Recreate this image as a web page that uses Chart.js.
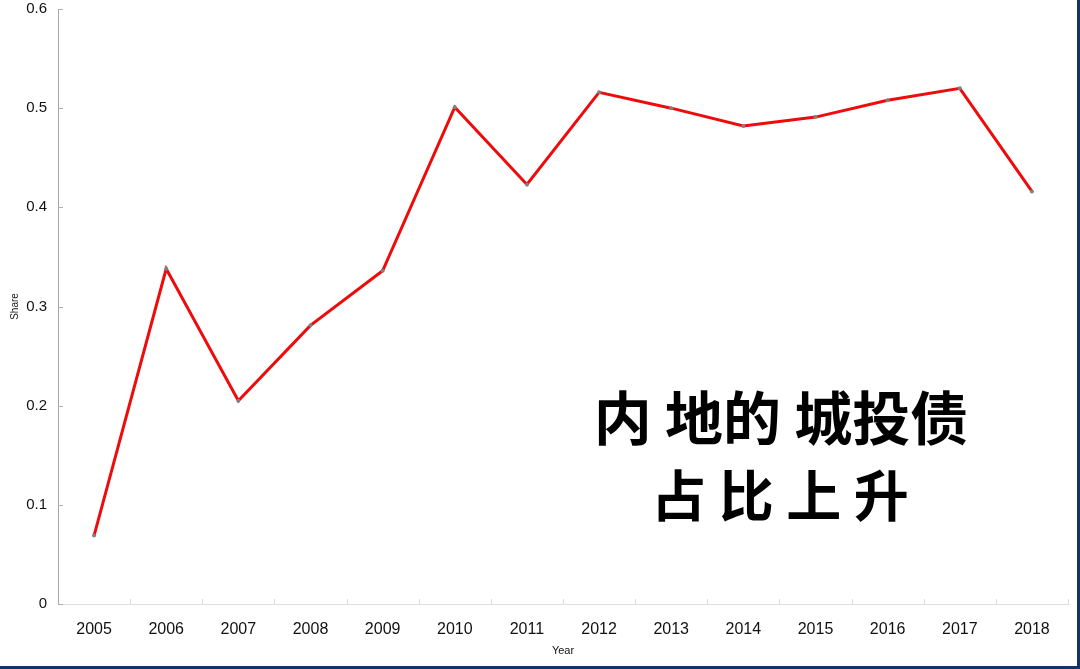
<!DOCTYPE html>
<html>
<head>
<meta charset="utf-8">
<script src="https://cdn.jsdelivr.net/npm/chart.js@4"></script>
<style>
  html, body { margin: 0; padding: 0; background: #12336a; width: 1080px; height: 669px; overflow: hidden; }
  #wrap { position: absolute; left: 0; top: 0; width: 1077px; height: 666px; background: #ffffff; overflow: hidden; }
  canvas { display: block; position: absolute; left: 0; top: -11px; }
</style>
</head>
<body>
<div id="wrap"><canvas id="c" width="1077" height="677"></canvas></div>
<script>
const years = ['2005','2006','2007','2008','2009','2010','2011','2012','2013','2014','2015','2016','2017','2018'];
const shareValues = [0.069, 0.338, 0.205, 0.281, 0.336, 0.501, 0.423, 0.516, 0.500, 0.482, 0.491, 0.508, 0.520, 0.416];
const yTickValues = [0, 0.1, 0.2, 0.3, 0.4, 0.5, 0.6];
const annotationLines = ['内 地的 城投债', '占 比 上 升'];

const innerTicks = {
  id: 'innerTicks',
  afterDraw(chart) {
    const ctx = chart.ctx;
    const x = chart.scales.x, y = chart.scales.y;
    ctx.save();
    ctx.lineWidth = 1;
    ctx.strokeStyle = '#b0b0b0';
    y.ticks.forEach((t, i) => {
      const py = Math.round(y.getPixelForTick(i)) + 0.5;
      ctx.beginPath(); ctx.moveTo(x.left, py); ctx.lineTo(x.left + 5, py); ctx.stroke();
    });
    ctx.strokeStyle = '#dcdcdc';
    const half = (x.getPixelForValue(1) - x.getPixelForValue(0)) / 2;
    for (let i = 0; i < years.length; i++) {
      const px = Math.round(x.getPixelForValue(i) + half) + 0.5;
      ctx.beginPath(); ctx.moveTo(px, y.bottom); ctx.lineTo(px, y.bottom - 5); ctx.stroke();
    }
    // annotation text (canvas is shifted up by 11px)
    ctx.fillStyle = '#000';
    ctx.textAlign = 'center';
    ctx.textBaseline = 'middle';
    ctx.font = 'bold 58px "Noto Sans CJK SC"';
    ctx.fillText(annotationLines[0], 781, 418 + 11);
    ctx.font = 'bold 55px "Noto Sans CJK SC"';
    ctx.fillText(annotationLines[1], 780, 495 + 11);
    ctx.restore();
  }
};

new Chart(document.getElementById('c'), {
  type: 'line',
  data: {
    labels: years,
    datasets: [{
      data: shareValues,
      borderColor: '#ee0b0b',
      borderWidth: 3,
      pointRadius: 2,
      pointBackgroundColor: '#808080',
      pointBorderWidth: 0,
      tension: 0,
      fill: false
    }]
  },
  options: {
    responsive: false,
    animation: false,
    devicePixelRatio: 1,
    layout: { padding: { top: 8, right: 9, left: 0, bottom: 0 } },
    plugins: { legend: { display: false }, tooltip: { enabled: false } },
    scales: {
      x: {
        type: 'category',
        offset: true,
        grid: { display: true, drawOnChartArea: false, drawTicks: false, color: 'rgba(0,0,0,0)' },
        border: { display: true, color: '#dedede', width: 1 },
        ticks: { color: '#111111', font: { family: 'Liberation Sans', size: 16 }, padding: 16, maxRotation: 0 },
        title: { display: true, text: 'Year', color: '#111111', font: { family: 'Liberation Sans', size: 11 }, padding: { top: 0, bottom: 8 } },
        afterFit(s) { s.height = 62; }
      },
      y: {
        min: 0, max: 0.6,
        afterBuildTicks(s) { s.ticks = yTickValues.map(v => ({ value: v })); },
        grid: { display: true, drawOnChartArea: false, drawTicks: false, color: 'rgba(0,0,0,0)' },
        border: { display: true, color: '#a8a8a8', width: 1 },
        ticks: { color: '#111111', font: { family: 'Liberation Sans', size: 15 }, padding: 11,
                 callback: v => String(Math.round(v * 10) / 10) },
        title: { display: true, text: 'Share', color: '#111111', font: { family: 'Liberation Sans', size: 10 }, padding: { top: 9, bottom: 0 } },
        afterFit(s) { s.width = 58; }
      }
    }
  },
  plugins: [innerTicks]
});
</script>
</body>
</html>
